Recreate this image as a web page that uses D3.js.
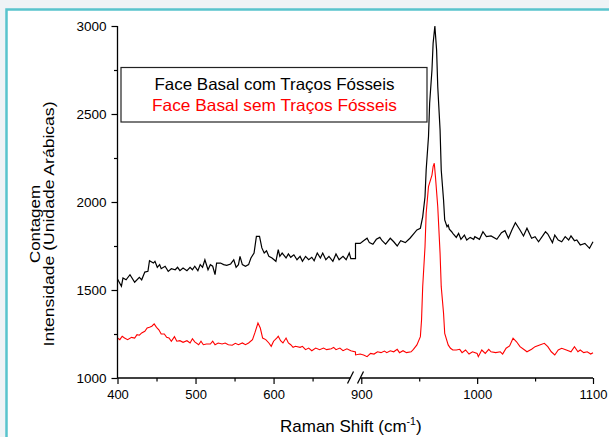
<!DOCTYPE html>
<html>
<head>
<meta charset="utf-8">
<script src="https://cdn.jsdelivr.net/npm/d3@7"></script>
<style>
  body { margin: 0; background: #eef3f6; }
  svg { display: block; }
  text { font-family: Arial, "Liberation Sans", sans-serif; }
</style>
</head>
<body>
<div id="chart"></div>
<script>
// Raman spectra
var comShift = [400,405,407,411,416,422,428,431,435,439,441,446,448,451,454,456,461,465,469,474,477,480,484,489,493,496,499,503,506,509,512,516,519,522,525,527,532,536,540,545,549,552,555,557,560,564,568,571,575,578,582,585,588,591,594,598,603,606,608,611,616,619,622,626,630,634,637,641,645,649,652,656,660,663,667,671,676,680,684,689,693,697,699,705,
  895,899,902,905,907,910,913,916,918,921,925,928,931,934,938,942,945,948,951,953,955,956,958,959,961,962,963.5,965,966,968,969,971,972,974,975,976,978,979,982,984,986,989,991,994,997,998,1002,1005,1008,1012,1017,1021,1024,1027,1030,1033,1037,1040,1043,1047,1050,1053,1057,1059,1061,1065,1067,1070,1073,1076,1079,1081,1084,1086,1089,1093,1097,1100];
var comCounts = [1562,1521,1568,1558,1587,1544,1572,1558,1602,1606,1666,1653,1663,1629,1644,1621,1635,1606,1621,1615,1629,1610,1625,1610,1629,1615,1635,1610,1644,1629,1672,1615,1644,1635,1587,1653,1653,1644,1640,1648,1672,1629,1644,1691,1644,1635,1644,1682,1710,1805,1805,1739,1710,1723,1691,1682,1663,1729,1691,1710,1682,1705,1686,1700,1672,1691,1663,1691,1672,1686,1666,1710,1682,1710,1672,1691,1663,1705,1672,1691,1672,1710,1678,1678,
  1765,1765,1780,1794,1769,1760,1788,1799,1780,1761,1794,1774,1750,1780,1769,1794,1818,1841,1851,1916,2030,2182,2371,2561,2750,2902,3000,2864,2655,2409,2182,2011,1898,1860,1869,1845,1831,1822,1799,1822,1788,1812,1784,1799,1788,1803,1788,1831,1803,1807,1788,1826,1837,1794,1841,1882,1841,1807,1851,1794,1803,1774,1812,1831,1818,1769,1812,1784,1774,1803,1784,1807,1780,1784,1756,1765,1737,1774];

var semShift = [400,403,406,409,413,418,422,425,428,431,435,438,441,444,447,450,453,456,460,463,466,469,473,476,480,484,489,493,496,499,504,507,510,514,519,522,525,529,534,538,542,547,551,555,560,564,568,573,576,580,583,586,590,594,597,600,604,606,609,612,616,619,622,625,628,634,637,641,645,649,654,659,664,668,674,677,680,685,689,694,699,705,
  895,899,902,905,908,911,914,917,920,922,925,928,931,933,936,939,943,945,948,951,952,953,955,956,958,961,962,963,964,966,968,969,971,972,975,977,979,982,985,987,990,993,996,1000,1001,1004,1007,1010,1012,1016,1020,1022,1025,1028,1031,1034,1037,1041,1043,1047,1050,1054,1058,1061,1064,1067,1070,1073,1077,1081,1084,1087,1089,1092,1095,1098,1100];
var semCounts = [1227,1218,1237,1227,1218,1231,1227,1246,1243,1256,1265,1284,1288,1294,1307,1288,1274,1250,1250,1231,1227,1209,1235,1209,1212,1203,1212,1199,1223,1205,1189,1209,1189,1193,1193,1209,1189,1199,1193,1199,1189,1186,1197,1189,1199,1189,1199,1218,1256,1312,1284,1227,1218,1199,1180,1209,1227,1237,1212,1199,1227,1199,1189,1174,1180,1174,1180,1161,1170,1155,1170,1161,1170,1161,1166,1174,1161,1170,1155,1166,1155,1148,
  1131,1136,1131,1121,1140,1136,1149,1144,1153,1144,1155,1149,1163,1144,1155,1144,1149,1163,1188,1235,1330,1519,1746,1936,2087,2153,2201,2220,2144,1973,1708,1519,1368,1254,1188,1169,1159,1159,1163,1144,1159,1136,1149,1140,1121,1159,1140,1163,1149,1144,1149,1136,1169,1182,1226,1206,1178,1159,1149,1163,1178,1188,1197,1178,1149,1131,1159,1169,1159,1149,1178,1149,1159,1144,1149,1136,1144];

var xMajorLeft = [400, 500, 600];
var xMinorLeft = [450, 550, 650];
var xMajorRight = [900, 1000, 1100];
var xMinorRight = [950, 1050];
var yMajor = [1000, 1500, 2000, 2500, 3000];
var yMinor = [1250, 1750, 2250, 2750];
var seriesNames = ["Face Basal com Traços Fósseis", "Face Basal sem Traços Fósseis"];

var width = 609, height = 437;
var plotLeft = 117.5, plotRight = 593, plotTop = 26, plotBottom = 378;
var breakAt = 355.5;

var svg = d3.select("#chart").append("svg")
    .attr("width", width)
    .attr("height", height);

// white panel with teal border
svg.append("rect")
    .attr("x", 6.5).attr("y", 9.5)
    .attr("width", 650).attr("height", 460)
    .attr("fill", "#fff")
    .attr("stroke", "#58c4cd")
    .attr("stroke-width", 2.5);

// broken x axis: two linear pieces
var xLeft = d3.scaleLinear().domain([400, 705]).range([plotLeft, breakAt]);
var xRight = d3.scaleLinear().domain([895, 1100]).range([breakAt, plotRight]);
function xPos(v) { return v <= 800 ? xLeft(v) : xRight(v); }

var y = d3.scaleLinear().domain([1000, 3000]).range([plotBottom, plotTop]);

var line = d3.line()
    .x(function (d) { return xPos(d[0]); })
    .y(function (d) { return y(d[1]); });

svg.append("path")
    .datum(d3.zip(comShift, comCounts))
    .attr("fill", "none")
    .attr("stroke", "#000")
    .attr("stroke-width", 1.2)
    .attr("d", line);

svg.append("path")
    .datum(d3.zip(semShift, semCounts))
    .attr("fill", "none")
    .attr("stroke", "#ff0000")
    .attr("stroke-width", 1.1)
    .attr("d", line);

// axes
var fmt = d3.format("d");
function styleAxis(g) {
    g.select(".domain").remove();
    g.selectAll("line").attr("stroke", "#000").attr("stroke-width", 1.2);
    g.selectAll("text").attr("fill", "#000");
}

function xAxis(scale, major, minor) {
    svg.append("g")
        .attr("transform", "translate(0," + plotBottom + ")")
        .call(d3.axisBottom(scale).tickValues(major).tickFormat(fmt).tickSize(6).tickPadding(6).tickSizeOuter(0))
        .attr("font-size", 13)
        .call(styleAxis);
    svg.append("g")
        .attr("transform", "translate(0," + plotBottom + ")")
        .call(d3.axisBottom(scale).tickValues(minor).tickSize(3.5).tickFormat(""))
        .call(styleAxis);
}
xAxis(xLeft, xMajorLeft, xMinorLeft);
xAxis(xRight, xMajorRight, xMinorRight);

svg.append("g")
    .attr("transform", "translate(" + plotLeft + ",0)")
    .call(d3.axisLeft(y).tickValues(yMajor).tickFormat(fmt).tickSize(6).tickPadding(5).tickSizeOuter(0))
    .attr("font-size", 13.5)
    .call(styleAxis);
svg.append("g")
    .attr("transform", "translate(" + plotLeft + ",0)")
    .call(d3.axisLeft(y).tickValues(yMinor).tickSize(3.5).tickFormat(""))
    .call(styleAxis);

// axis lines with break marks
var axisLines = [
    [plotLeft, plotBottom, breakAt - 5, plotBottom],
    [breakAt + 4.5, plotBottom, plotRight, plotBottom],
    [plotLeft, plotBottom, plotLeft, plotTop],
    [breakAt - 8, plotBottom + 5.5, breakAt - 2, plotBottom - 6.5],
    [breakAt + 2, plotBottom + 5.5, breakAt + 8, plotBottom - 6.5]
];
svg.selectAll(".axisline").data(axisLines).enter().append("line")
    .attr("x1", function (d) { return d[0]; })
    .attr("y1", function (d) { return d[1]; })
    .attr("x2", function (d) { return d[2]; })
    .attr("y2", function (d) { return d[3]; })
    .attr("stroke", "#000")
    .attr("stroke-width", 1.3);

// legend
svg.append("rect")
    .attr("x", 121).attr("y", 67.5)
    .attr("width", 306).attr("height", 54.5)
    .attr("fill", "#fff")
    .attr("stroke", "#222")
    .attr("stroke-width", 1.2);

var legendColors = ["#000", "#ff0000"];
var legendLengths = [240, 245];
svg.selectAll(".legtext").data(seriesNames).enter().append("text")
    .attr("x", 274.5)
    .attr("y", function (d, i) { return 89.5 + i * 21; })
    .attr("text-anchor", "middle")
    .attr("font-size", 16.5)
    .attr("textLength", function (d, i) { return legendLengths[i]; })
    .attr("lengthAdjust", "spacingAndGlyphs")
    .attr("fill", function (d, i) { return legendColors[i]; })
    .text(function (d) { return d; });

// axis titles
var xt = svg.append("text")
    .attr("x", 280)
    .attr("y", 431.5)
    .attr("font-size", 17)
    .attr("fill", "#000");
xt.append("tspan").text("Raman Shift (cm");
xt.append("tspan").attr("font-size", 10.5).attr("dy", -7).text("-1");
xt.append("tspan").attr("dy", 7).text(")");

svg.append("text")
    .attr("transform", "translate(39.5,224) rotate(-90)")
    .attr("text-anchor", "middle")
    .attr("font-size", 15.5)
    .attr("textLength", 78)
    .attr("lengthAdjust", "spacingAndGlyphs")
    .text("Contagem");

svg.append("text")
    .attr("transform", "translate(54,224) rotate(-90)")
    .attr("text-anchor", "middle")
    .attr("font-size", 15.5)
    .attr("textLength", 245)
    .attr("lengthAdjust", "spacingAndGlyphs")
    .text("Intensidade (Unidade Arábicas)");
</script>
</body>
</html>
